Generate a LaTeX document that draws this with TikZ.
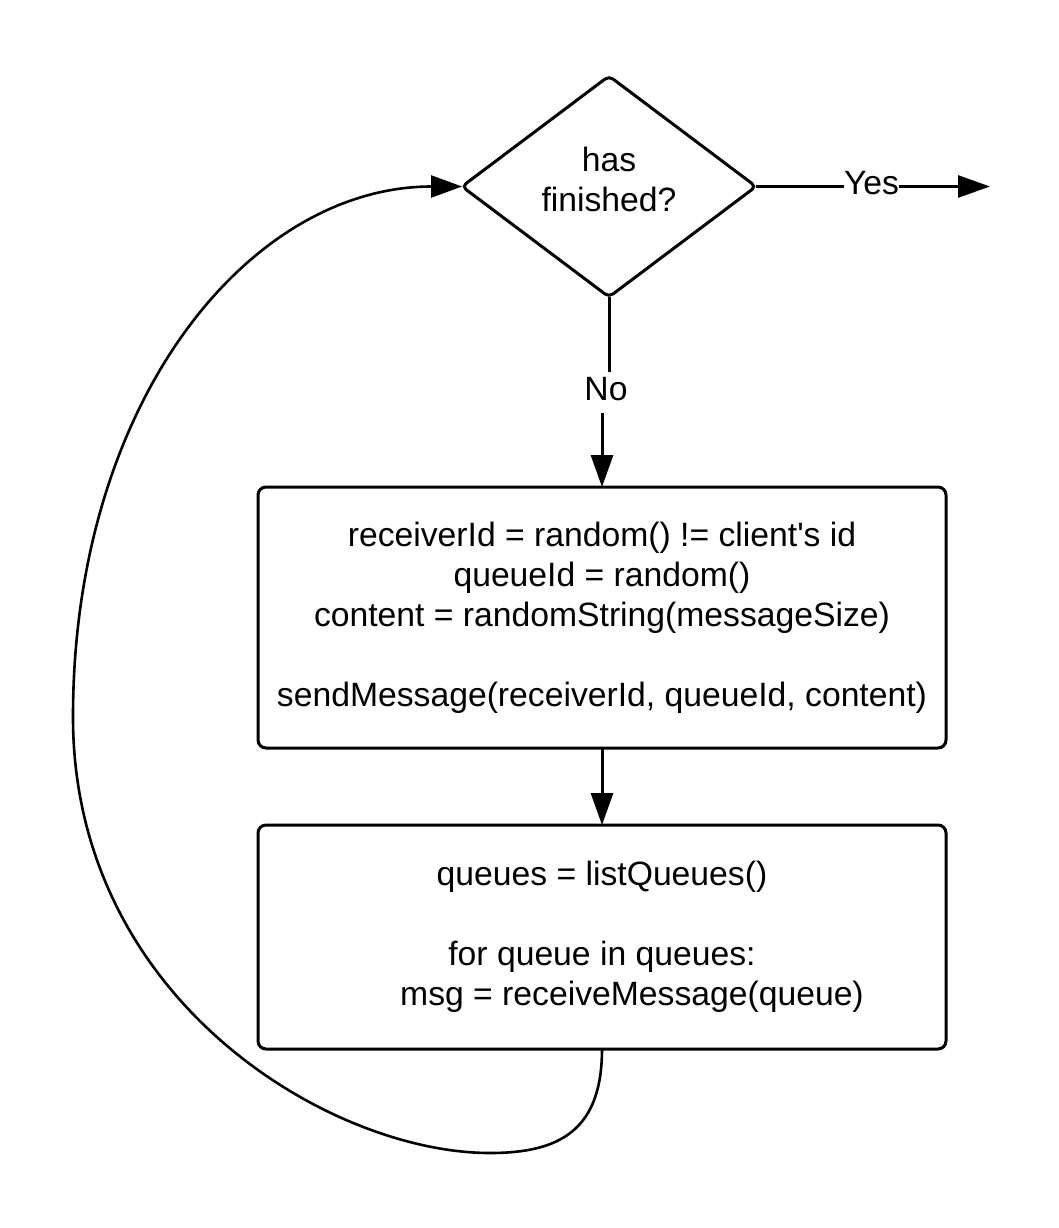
\documentclass[tikz,border=0pt]{standalone}
\usepackage{fontspec}
\setmainfont{Liberation Sans}
\usetikzlibrary{shapes.geometric,arrows.meta}
\begin{document}
\begin{tikzpicture}[x=1pt,y=-1pt,
  font=\fontsize{33.7}{40}\selectfont,
  boxnode/.style={draw, line width=3pt, rounded corners=8pt, minimum width=688pt,
    inner sep=0pt, outer sep=0pt, align=center},
  decnode/.style={draw, diamond, line width=3pt, rounded corners=5pt,
    minimum width=294pt, minimum height=221pt, inner sep=0pt, outer sep=0pt,
    align=center, text depth=15pt},
  lbl/.style={fill=white, inner xsep=0pt, inner ysep=0pt, anchor=base},
  conn/.style={line width=3pt},
  arr/.style={line width=3pt, -{Triangle[length=32pt,width=22pt]}},
  looparr/.style={line width=2.6pt, -{Triangle[length=31pt,width=22pt]}},
]
\useasboundingbox (0,0) rectangle (1059,1228);

\node[decnode] (dec) at (609,186.5) {has\\finished?};

\node[boxnode, minimum height=261pt] (b1) at (602,617.5)
  {receiverId = random() != client\textquotesingle s id\\
   queueId = random()\\
   content = randomString(messageSize)\\[40pt]
   sendMessage(receiverId, queueId, content)};

\node[boxnode, minimum height=224pt] (b2) at (602,937)
  {queues = listQueues()\\[40pt]
   for queue in queues:\\
   \hspace*{60pt}msg = receiveMessage(queue)};

% Yes branch
\node[lbl] (yes) at (871.5,194) {Yes};
\coordinate (yesend) at (990,186.5);
\draw[conn] (dec.east) -- (dec.east -| yes.west);
\draw[arr] (dec.east -| yes.east) -- (yesend);

% No branch
\node[lbl, text height=28pt, text depth=13pt] (no) at (606,400) {No};
\draw[conn] (dec.south) -- (dec.south |- no.north);
\draw[arr] (b1.north |- no.south) -- (b1.north);

% box1 -> box2
\draw[arr] (b1.south) -- (b2.north);

% loop back
\coordinate (loopbot) at (490,1153);
\coordinate (loopleft) at (73,717);
\draw[looparr] (b2.south) .. controls (602,1130) and (560,1153) .. (loopbot)
  .. controls (330,1153) and (73,1000) .. (loopleft)
  .. controls (73,400) and (250,186.5) .. (dec.west);
\end{tikzpicture}
\end{document}
